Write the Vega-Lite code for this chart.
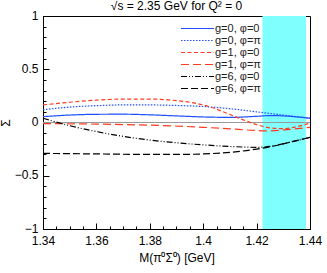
{
  "$schema": "https://vega.github.io/schema/vega-lite/v6.json",
  "width": 267,
  "height": 213,
  "autosize": {"type": "none"},
  "padding": {"left": 43, "top": 16, "right": 17, "bottom": 44},
  "config": {
    "font": "Liberation Sans",
    "view": {"stroke": "black", "strokeWidth": 1},
    "axis": {"domainColor": "black", "tickColor": "black", "labelColor": "black", "titleColor": "black", "grid": false, "labelFontSize": 12, "titleFontSize": 12, "titleFontWeight": "normal", "labelOverlap": false, "labelFlush": false}
  },
  "title": {"text": "√s = 2.35 GeV for Q² = 0", "fontSize": 12, "fontWeight": "normal", "offset": -4, "color": "black"},
  "resolve": {"axis": {"x": "independent", "y": "independent"}},
  "datasets": {
    "band": [{"x1": 1.4222, "x2": 1.4385}],
    "zero": [{"y": 0}],
    "curves": [
      {"x": 1.34, "y": 0.055, "s": "g=0, φ=0"},
      {"x": 1.35, "y": 0.07, "s": "g=0, φ=0"},
      {"x": 1.36, "y": 0.077, "s": "g=0, φ=0"},
      {"x": 1.37, "y": 0.078, "s": "g=0, φ=0"},
      {"x": 1.38, "y": 0.072, "s": "g=0, φ=0"},
      {"x": 1.39, "y": 0.062, "s": "g=0, φ=0"},
      {"x": 1.40, "y": 0.052, "s": "g=0, φ=0"},
      {"x": 1.41, "y": 0.048, "s": "g=0, φ=0"},
      {"x": 1.42, "y": 0.058, "s": "g=0, φ=0"},
      {"x": 1.425, "y": 0.065, "s": "g=0, φ=0"},
      {"x": 1.43, "y": 0.062, "s": "g=0, φ=0"},
      {"x": 1.435, "y": 0.053, "s": "g=0, φ=0"},
      {"x": 1.44, "y": 0.04, "s": "g=0, φ=0"},

      {"x": 1.34, "y": 0.12, "s": "g=0, φ=π"},
      {"x": 1.35, "y": 0.145, "s": "g=0, φ=π"},
      {"x": 1.36, "y": 0.158, "s": "g=0, φ=π"},
      {"x": 1.37, "y": 0.165, "s": "g=0, φ=π"},
      {"x": 1.38, "y": 0.165, "s": "g=0, φ=π"},
      {"x": 1.39, "y": 0.16, "s": "g=0, φ=π"},
      {"x": 1.40, "y": 0.15, "s": "g=0, φ=π"},
      {"x": 1.41, "y": 0.13, "s": "g=0, φ=π"},
      {"x": 1.42, "y": 0.1, "s": "g=0, φ=π"},
      {"x": 1.43, "y": 0.07, "s": "g=0, φ=π"},
      {"x": 1.44, "y": 0.04, "s": "g=0, φ=π"},

      {"x": 1.34, "y": 0.165, "s": "g=1, φ=0"},
      {"x": 1.35, "y": 0.19, "s": "g=1, φ=0"},
      {"x": 1.36, "y": 0.21, "s": "g=1, φ=0"},
      {"x": 1.37, "y": 0.22, "s": "g=1, φ=0"},
      {"x": 1.38, "y": 0.22, "s": "g=1, φ=0"},
      {"x": 1.39, "y": 0.205, "s": "g=1, φ=0"},
      {"x": 1.40, "y": 0.165, "s": "g=1, φ=0"},
      {"x": 1.405, "y": 0.125, "s": "g=1, φ=0"},
      {"x": 1.41, "y": 0.075, "s": "g=1, φ=0"},
      {"x": 1.415, "y": 0.025, "s": "g=1, φ=0"},
      {"x": 1.42, "y": -0.02, "s": "g=1, φ=0"},
      {"x": 1.425, "y": -0.05, "s": "g=1, φ=0"},
      {"x": 1.43, "y": -0.058, "s": "g=1, φ=0"},
      {"x": 1.435, "y": -0.04, "s": "g=1, φ=0"},
      {"x": 1.44, "y": -0.005, "s": "g=1, φ=0"},

      {"x": 1.34, "y": -0.01, "s": "g=1, φ=π"},
      {"x": 1.36, "y": -0.015, "s": "g=1, φ=π"},
      {"x": 1.38, "y": -0.025, "s": "g=1, φ=π"},
      {"x": 1.40, "y": -0.045, "s": "g=1, φ=π"},
      {"x": 1.41, "y": -0.06, "s": "g=1, φ=π"},
      {"x": 1.42, "y": -0.075, "s": "g=1, φ=π"},
      {"x": 1.425, "y": -0.078, "s": "g=1, φ=π"},
      {"x": 1.43, "y": -0.07, "s": "g=1, φ=π"},
      {"x": 1.44, "y": -0.045, "s": "g=1, φ=π"},

      {"x": 1.34, "y": 0.04, "s": "g=6, φ=0"},
      {"x": 1.35, "y": -0.03, "s": "g=6, φ=0"},
      {"x": 1.36, "y": -0.085, "s": "g=6, φ=0"},
      {"x": 1.37, "y": -0.13, "s": "g=6, φ=0"},
      {"x": 1.38, "y": -0.165, "s": "g=6, φ=0"},
      {"x": 1.39, "y": -0.19, "s": "g=6, φ=0"},
      {"x": 1.40, "y": -0.21, "s": "g=6, φ=0"},
      {"x": 1.41, "y": -0.225, "s": "g=6, φ=0"},
      {"x": 1.42, "y": -0.233, "s": "g=6, φ=0"},
      {"x": 1.425, "y": -0.225, "s": "g=6, φ=0"},
      {"x": 1.43, "y": -0.198, "s": "g=6, φ=0"},
      {"x": 1.44, "y": -0.14, "s": "g=6, φ=0"},

      {"x": 1.34, "y": -0.29, "s": "g=6, φ=π"},
      {"x": 1.36, "y": -0.295, "s": "g=6, φ=π"},
      {"x": 1.38, "y": -0.3, "s": "g=6, φ=π"},
      {"x": 1.39, "y": -0.3, "s": "g=6, φ=π"},
      {"x": 1.40, "y": -0.295, "s": "g=6, φ=π"},
      {"x": 1.41, "y": -0.28, "s": "g=6, φ=π"},
      {"x": 1.42, "y": -0.25, "s": "g=6, φ=π"},
      {"x": 1.425, "y": -0.228, "s": "g=6, φ=π"},
      {"x": 1.43, "y": -0.2, "s": "g=6, φ=π"},
      {"x": 1.44, "y": -0.14, "s": "g=6, φ=π"}
    ]
  },
  "layer": [
    {
      "data": {"name": "band"},
      "mark": {"type": "rect", "color": "#80ffff"},
      "encoding": {
        "x": {"field": "x1", "type": "quantitative", "scale": {"domain": [1.34, 1.44], "nice": false, "zero": false},
          "axis": {
            "orient": "bottom",
            "title": "M(π⁰Σ⁰) [GeV]",
            "values": [1.34, 1.36, 1.38, 1.4, 1.42, 1.44],
            "format": "~g",
            "tickSize": -6,
            "labelOverlap": false,
            "labelPadding": 12,
            "titlePadding": 6
          }},
        "x2": {"field": "x2"},
        "y": {"value": 0},
        "y2": {"value": 213}
      }
    },
    {
      "data": {"name": "zero"},
      "mark": {"type": "rule", "color": "#999999", "strokeWidth": 1},
      "encoding": {
        "y": {"field": "y", "type": "quantitative", "scale": {"domain": [-1, 1], "nice": false},
          "axis": {
            "orient": "left",
            "title": null,
            "labels": false,
            "domain": false,
            "values": [-1, -0.9, -0.8, -0.7, -0.6, -0.5, -0.4, -0.3, -0.2, -0.1, 0, 0.1, 0.2, 0.3, 0.4, 0.5, 0.6, 0.7, 0.8, 0.9, 1],
            "tickSize": -3
          }}
      }
    },
    {
      "data": {"name": "curves"},
      "mark": {"type": "line", "strokeWidth": 1.2, "interpolate": "monotone", "clip": true},
      "encoding": {
        "x": {"field": "x", "type": "quantitative",
          "axis": {
            "orient": "bottom",
            "title": null,
            "labels": false,
            "domain": false,
            "values": [1.34, 1.345, 1.35, 1.355, 1.36, 1.365, 1.37, 1.375, 1.38, 1.385, 1.39, 1.395, 1.4, 1.405, 1.41, 1.415, 1.42, 1.425, 1.43, 1.435, 1.44],
            "tickSize": -3
          }},
        "y": {"field": "y", "type": "quantitative",
          "axis": {
            "orient": "left",
            "title": "Σ",
            "values": [-1, -0.5, 0, 0.5, 1],
            "format": "~g",
            "tickSize": -6,
            "labelOverlap": false,
            "labelPadding": 11,
            "labelOffset": -1,
            "titlePadding": 2
          }},
        "color": {"field": "s", "type": "nominal",
          "sort": ["g=0, φ=0", "g=0, φ=π", "g=1, φ=0", "g=1, φ=π", "g=6, φ=0", "g=6, φ=π"],
          "scale": {"domain": ["g=0, φ=0", "g=0, φ=π", "g=1, φ=0", "g=1, φ=π", "g=6, φ=0", "g=6, φ=π"],
            "range": ["#1f4fff", "#1f4fff", "#ff3a1f", "#ff3a1f", "#000000", "#000000"]},
          "legend": {"title": null, "orient": "none", "legendX": 137, "legendY": 7, "symbolType": "stroke", "symbolSize": 1089, "symbolStrokeWidth": 1.2, "clipHeight": 11, "labelFontSize": 11, "labelColor": "#222222", "rowPadding": 0, "padding": 0, "labelOffset": 0, "symbolLimit": 0}},
        "strokeDash": {"field": "s", "type": "nominal",
          "sort": ["g=0, φ=0", "g=0, φ=π", "g=1, φ=0", "g=1, φ=π", "g=6, φ=0", "g=6, φ=π"],
          "scale": {"domain": ["g=0, φ=0", "g=0, φ=π", "g=1, φ=0", "g=1, φ=π", "g=6, φ=0", "g=6, φ=π"],
            "range": [[1, 0], [1.5, 1.5], [4, 2.5], [8, 4], [6, 2, 1, 2, 1, 2], [7, 3]]}}
      }
    }
  ]
}
